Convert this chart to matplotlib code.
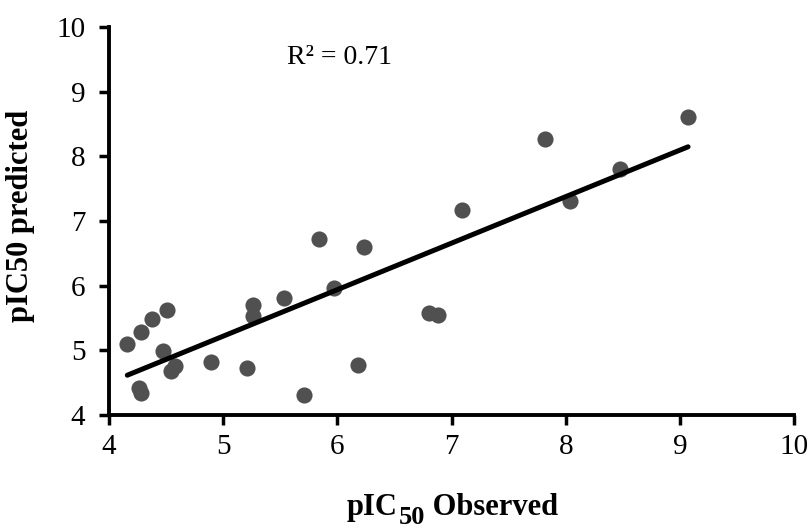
import matplotlib
matplotlib.use('Agg')
import matplotlib.pyplot as plt
import numpy as np

# observed vs predicted pIC50 values
observed = [4.16, 4.28, 4.38, 4.51, 4.47, 4.26, 4.28, 4.54, 4.58, 4.89, 5.21,
            5.26, 5.26, 5.53, 5.97, 5.71, 6.18, 5.84, 6.23, 7.09, 6.80, 6.88,
            7.82, 8.04, 8.47, 9.07]
predicted = [5.10, 5.28, 5.48, 5.62, 4.99, 4.41, 4.34, 4.68, 4.75, 4.82, 4.72,
             5.70, 5.53, 5.81, 5.97, 4.31, 4.77, 6.72, 6.59, 7.17, 5.58, 5.55,
             8.27, 7.31, 7.81, 8.60]
xticks = [4, 5, 6, 7, 8, 9, 10]
yticks = [4, 5, 6, 7, 8, 9, 10]
r2_text = 'R² = 0.71'

plt.rcParams['font.family'] = ['Liberation Serif', 'DejaVu Serif']

x = np.array(observed)
y = np.array(predicted)

fig = plt.figure(figsize=(8.1, 5.28), dpi=100)
ax = fig.add_axes([0.1346, 0.214, 0.846, 0.735])

ax.scatter(x, y, s=135, color='#505050', zorder=3, linewidths=0)

# linear trendline across the observed range
m, b = np.polyfit(x, y, 1)
xs = np.array([x.min(), x.max()])
ax.plot(xs, m * xs + b, color='black', lw=3.6, zorder=4, solid_capstyle='round')

ax.text(5.56, 9.53, r2_text, fontsize=20, ha='left', va='center')

ax.set_xlim(4, 10)
ax.set_ylim(4, 10)
ax.set_xticks(xticks)
ax.set_yticks(yticks)
ax.tick_params(axis='both', labelsize=21, width=2.5, length=7, direction='out')
ax.tick_params(axis='x', pad=7)
ax.tick_params(axis='y', pad=10)

for s in ['top', 'right']:
    ax.spines[s].set_visible(False)
for s in ['left', 'bottom']:
    ax.spines[s].set_linewidth(2.8)

# x label built from pieces so the subscript stays big like the original
t1 = ax.text(0.347, -0.275, 'pIC', transform=ax.transAxes, fontsize=22,
             fontweight='bold', ha='left', va='bottom', clip_on=False)
t2 = ax.annotate('50', xy=(1, 0), xycoords=t1, xytext=(0.5, -5),
                 textcoords='offset points', fontsize=19, fontweight='bold',
                 ha='left', va='bottom', annotation_clip=False)
ax.annotate(' Observed', xy=(1, 0), xycoords=t2, xytext=(0, 5),
            textcoords='offset points', fontsize=22, fontweight='bold',
            ha='left', va='bottom', annotation_clip=False)

ax.set_ylabel('pIC50 predicted', fontsize=22, fontweight='bold')
ax.yaxis.set_label_coords(-0.108, 0.513)

fig.savefig('out.png', dpi=100)
